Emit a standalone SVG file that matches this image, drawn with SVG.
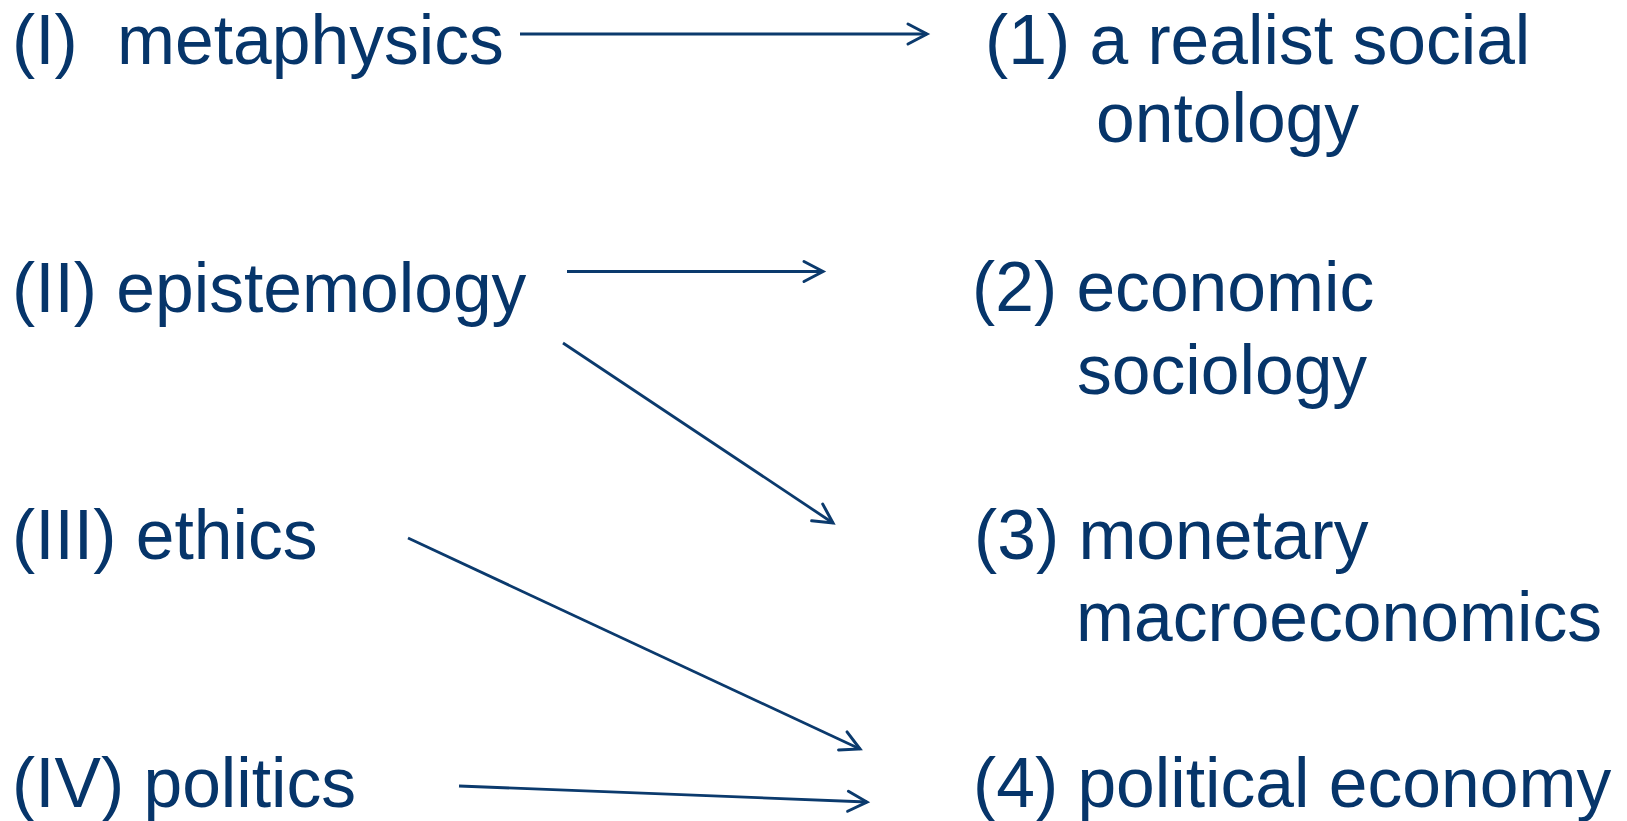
<svg xmlns="http://www.w3.org/2000/svg" width="1627" height="821" viewBox="0 0 1627 821">
  <style>
    .lbl { font-family: "Liberation Sans", Arial, sans-serif; font-size: 69.6px; fill: #06356a; }
    .edge { fill: none; stroke: #0b3a6d; stroke-width: 2.8; marker-end: url(#arrow); }
  </style>
  <defs>
    <marker id="arrow" viewBox="-24 -14 28 28" refX="0" refY="0" markerWidth="28" markerHeight="28" markerUnits="userSpaceOnUse" orient="auto">
      <path d="M-19,-10 L0,0 L-19,10" fill="none" stroke="#0b3a6d" stroke-width="3" stroke-linecap="round" stroke-linejoin="miter"/>
    </marker>
  </defs>
  <rect width="1627" height="821" fill="#ffffff"/>

  <!-- left column: branches of philosophy -->
  <g id="metaphysics"><text class="lbl" x="12" y="64">(I)<tspan x="117">metaphysics</tspan></text></g>
  <g id="epistemology"><text class="lbl" x="12" y="312">(II) epistemology</text></g>
  <g id="ethics"><text class="lbl" x="12" y="559">(III) ethics</text></g>
  <g id="politics"><text class="lbl" x="12" y="807">(IV) politics</text></g>

  <!-- right column: fields -->
  <g id="ontology"><text class="lbl" x="985" y="64">(1) a realist social<tspan x="1096" y="142">ontology</tspan></text></g>
  <g id="sociology"><text class="lbl" x="972" y="311">(2) economic<tspan x="1077" y="394">sociology</tspan></text></g>
  <g id="macro"><text class="lbl" x="974" y="559">(3) monetary<tspan x="1076" y="641">macroeconomics</tspan></text></g>
  <g id="political-economy"><text class="lbl" x="973" y="807">(4) political economy</text></g>

  <!-- connectors -->
  <g id="connectors">
    <line class="edge" x1="520" y1="34" x2="927" y2="34"/>
    <line class="edge" x1="567" y1="271.5" x2="823" y2="271.5"/>
    <line class="edge" x1="563" y1="343" x2="833" y2="523"/>
    <line class="edge" x1="408" y1="538" x2="860" y2="749"/>
    <line class="edge" x1="459" y1="786" x2="867" y2="802"/>
  </g>
</svg>
